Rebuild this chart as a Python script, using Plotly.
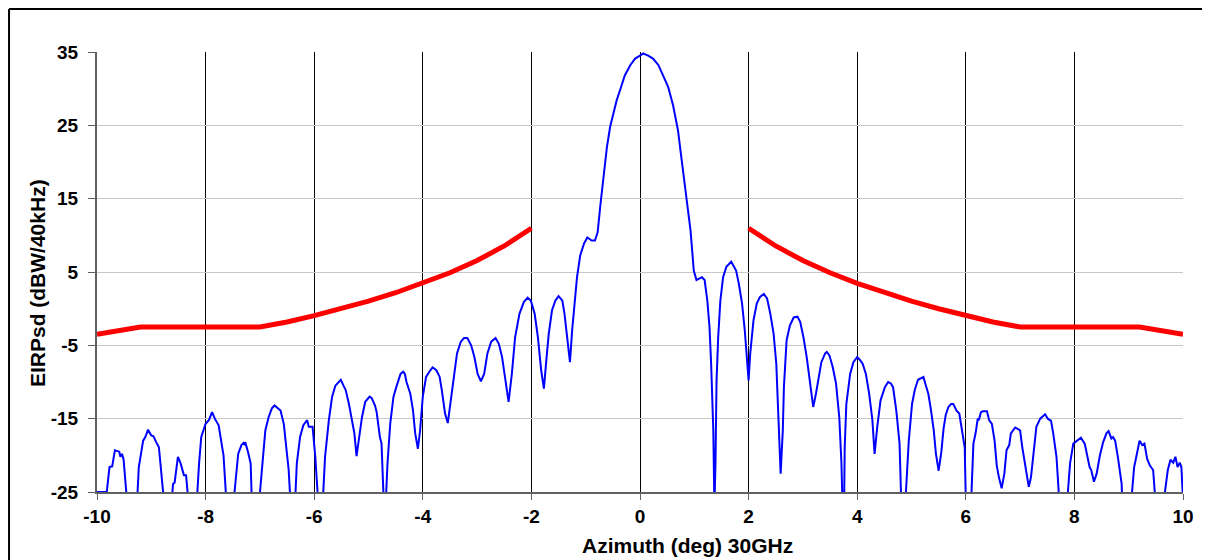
import plotly.graph_objects as go

# ---- Data ----
pattern_az = [
    -10.00, -9.82, -9.77, -9.72, -9.67, -9.63, -9.59, -9.57, -9.54, -9.51, -9.45, -9.35, -9.26,
    -9.23, -9.15, -9.11, -9.06, -9.00, -8.96, -8.91, -8.86, -8.77, -8.69, -8.61,
    -8.60, -8.57, -8.51, -8.46, -8.40, -8.36, -8.32, -8.24, -8.16,
    -8.12, -8.08, -8.00, -7.94, -7.88, -7.83, -7.76, -7.71, -7.67, -7.62, -7.55, -7.48,
    -7.40, -7.34, -7.30, -7.28, -7.27, -7.22, -7.17, -7.15, -7.08, -7.01,
    -6.95, -6.90, -6.84, -6.78, -6.73, -6.67, -6.62, -6.56, -6.52, -6.47, -6.44, -6.40, -6.35,
    -6.32, -6.26, -6.20, -6.13, -6.10, -6.03, -5.98, -5.93, -5.88, -5.84,
    -5.80, -5.73, -5.67, -5.61, -5.55, -5.51, -5.46, -5.42, -5.36, -5.31, -5.26, -5.22,
    -5.18, -5.12, -5.06, -4.98, -4.94, -4.88, -4.85, -4.79, -4.76, -4.73, -4.70, -4.68,
    -4.65, -4.60, -4.54, -4.48, -4.41, -4.36, -4.33, -4.30, -4.23, -4.18, -4.14, -4.09,
    -4.05, -4.00, -3.94, -3.88, -3.82, -3.75, -3.69, -3.65, -3.59, -3.54,
    -3.50, -3.43, -3.37, -3.30, -3.24, -3.18, -3.11, -3.05, -2.99, -2.93,
    -2.87, -2.81, -2.74, -2.66, -2.60, -2.54, -2.48, -2.42,
    -2.36, -2.30, -2.22, -2.14, -2.07, -2.01, -1.94, -1.88, -1.82, -1.77,
    -1.72, -1.68, -1.62, -1.56, -1.50, -1.43, -1.39, -1.34, -1.29,
    -1.25, -1.21, -1.16, -1.10, -1.03, -0.97, -0.89, -0.83, -0.78, -0.73, -0.67, -0.61,
    -0.55, -0.49, -0.43, -0.35, -0.28, -0.18, -0.09, 0.00, 0.06, 0.15, 0.24, 0.34, 0.43,
    0.52, 0.61, 0.70, 0.76, 0.83, 0.89, 0.93, 0.96, 0.99, 1.04, 1.08, 1.14, 1.19, 1.24,
    1.28, 1.31, 1.35, 1.37, 1.39, 1.41, 1.44, 1.48, 1.53, 1.59, 1.68, 1.72, 1.77, 1.82,
    1.88, 1.93, 1.97, 2.00, 2.03, 2.09, 2.15, 2.21, 2.28, 2.34, 2.40, 2.46, 2.51, 2.55,
    2.59, 2.63, 2.65, 2.70, 2.76, 2.83, 2.90, 2.95, 3.01, 3.07, 3.13, 3.19, 3.24, 3.28,
    3.34, 3.41, 3.44, 3.49, 3.55, 3.61, 3.67, 3.71, 3.72, 3.74, 3.76, 3.77, 3.80, 3.87,
    3.93, 4.00, 4.05, 4.10, 4.16, 4.22, 4.28, 4.32, 4.37, 4.43, 4.51, 4.57, 4.62, 4.66,
    4.72, 4.78, 4.81, 4.85, 4.89, 4.95, 5.01, 5.06, 5.12, 5.16, 5.22, 5.27, 5.31, 5.36,
    5.41, 5.45, 5.50, 5.55, 5.59, 5.63, 5.68, 5.73, 5.77, 5.83, 5.88, 5.93, 5.98, 6.00,
    6.05, 6.10, 6.14, 6.18, 6.22, 6.24, 6.28, 6.32, 6.39, 6.43, 6.48, 6.53, 6.57, 6.61,
    6.66, 6.71, 6.75, 6.80, 6.83, 6.91, 7.00, 7.04, 7.08, 7.12, 7.16, 7.20, 7.24, 7.30,
    7.37, 7.46, 7.51, 7.57, 7.61, 7.67, 7.72, 7.80, 7.87, 7.92, 7.98, 8.04, 8.12, 8.19,
    8.24, 8.28, 8.31, 8.36, 8.41, 8.47, 8.53, 8.59, 8.63, 8.68, 8.71, 8.75, 8.80, 8.87,
    8.88, 8.96, 9.05, 9.10, 9.14, 9.20, 9.25, 9.29, 9.34, 9.39, 9.45, 9.49, 9.58, 9.66,
    9.68, 9.72, 9.77, 9.82, 9.86, 9.90, 9.94, 9.97, 10.00,
]
pattern_eirp = [
    -25.0, -25.0, -21.6, -21.5, -19.3, -19.4, -19.5, -20.2, -19.8, -20.6, -26.0, -30.0, -26.0,
    -21.6, -18.0, -17.5, -16.5, -17.3, -17.4, -18.2, -18.9, -26.0, -30.0, -25.0,
    -23.9, -23.7, -20.2, -21.1, -22.7, -22.7, -26.0, -30.0, -26.0,
    -21.1, -17.5, -15.7, -15.2, -14.1, -15.0, -15.9, -18.0, -20.0, -26.0, -30.0, -26.0,
    -19.8, -18.6, -18.3, -18.6, -18.2, -19.5, -21.1, -26.0, -30.0, -26.0,
    -20.2, -16.6, -14.8, -13.6, -13.2, -13.6, -13.9, -15.7, -18.4, -22.0, -26.0, -30.0, -26.0,
    -21.1, -17.5, -15.9, -15.2, -16.1, -16.1, -20.2, -26.0, -30.0, -26.0,
    -20.2, -15.2, -12.0, -10.5, -10.0, -9.7, -10.5, -11.1, -13.0, -14.8, -17.0, -20.1,
    -18.0, -14.8, -12.7, -12.0, -12.2, -13.2, -14.1, -17.5, -18.4, -26.0, -30.0, -26.0,
    -21.1, -15.7, -12.0, -10.5, -8.9, -8.6, -8.9, -10.0, -11.6, -13.9, -17.0, -19.1,
    -16.6, -12.0, -9.3, -8.6, -8.0, -8.4, -9.3, -11.1, -14.3, -15.6,
    -13.4, -9.3, -6.1, -4.5, -4.0, -4.0, -5.0, -6.6, -8.9, -9.9,
    -8.9, -6.1, -4.5, -4.0, -4.8, -6.6, -9.8, -12.7,
    -8.9, -3.9, -0.7, 0.9, 1.5, 1.1, -0.7, -3.9, -8.4, -10.9,
    -6.6, -3.4, -0.2, 1.1, 1.7, 1.1, -0.7, -4.3, -7.3,
    -3.0, 0.5, 4.3, 7.3, 8.9, 9.7, 9.3, 9.3, 10.4, 14.1, 18.4, 22.0,
    24.8, 26.6, 28.4, 30.2, 31.8, 33.2, 34.1, 34.5, 34.8, 34.5, 34.1, 33.2, 31.8,
    30.2, 27.7, 24.3, 20.7, 16.6, 12.5, 10.7, 8.0, 5.2, 3.9, 4.1, 4.3, 3.9, 1.1,
    -2.5, -7.5, -16.6, -27.0, -21.1, -9.8, -3.9, 1.1, 4.3, 5.7, 6.4, 5.9, 5.2, 3.4,
    0.7, -3.0, -6.6, -9.8, -6.1, -1.6, 0.7, 1.6, 2.0, 1.4, -0.7, -3.4, -7.5, -14.3,
    -22.5, -16.6, -10.7, -4.3, -2.3, -1.2, -1.1, -1.8, -3.9, -6.6, -10.2, -13.4, -11.6, -9.8,
    -7.3, -6.1, -5.9, -6.4, -8.0, -10.2, -14.8, -21.1, -26.0, -30.0, -26.0, -18.9, -13.0, -8.9,
    -7.3, -6.6, -7.0, -7.5, -8.9, -11.6, -15.2, -19.8, -16.1, -12.5, -10.7, -10.0, -10.2, -10.7,
    -13.9, -18.4, -26.0, -30.0, -26.0, -18.0, -13.0, -11.1, -9.7, -9.5, -9.3, -10.6, -11.6, -13.9,
    -16.6, -19.8, -22.1, -19.5, -16.4, -14.5, -13.4, -13.0, -13.0, -13.9, -14.3, -16.6, -18.9, -26.0,
    -30.0, -26.0, -18.4, -17.0, -15.0, -15.2, -14.1, -14.0, -14.0, -15.2, -15.7, -18.0, -21.4, -23.0,
    -24.5, -22.5, -19.3, -18.6, -17.0, -16.2, -16.6, -18.9, -20.7, -23.0, -24.3, -23.0, -19.8, -16.1,
    -15.0, -14.4, -15.0, -15.3, -17.0, -20.2, -26.0, -30.0, -26.0, -21.1, -18.4, -18.0, -17.6, -18.4,
    -20.0, -21.6, -22.0, -23.6, -22.5, -20.0, -18.2, -17.0, -16.7, -17.7, -17.5, -18.0, -20.2, -23.9,
    -26.0, -30.0, -26.0, -21.6, -20.2, -18.0, -18.6, -18.4, -20.5, -21.4, -22.0, -26.0, -30.0, -25.0,
    -24.5, -22.0, -20.6, -21.0, -20.2, -21.6, -21.0, -21.6, -26.0,
]

mask_left_az = [-10.0, -9.2, -7.0, -6.5, -6.0, -5.5, -5.0, -4.5, -4.0, -3.5, -3.0, -2.5, -2.0]
mask_left_eirp = [-3.5, -2.5, -2.5, -1.82, -0.95, -0.01, 1.03, 2.17, 3.45, 4.90, 6.57, 8.55, 10.97]
mask_right_az = [2.0, 2.5, 3.0, 3.5, 4.0, 4.5, 5.0, 5.5, 6.0, 6.5, 7.0, 9.2, 10.0]
mask_right_eirp = [10.97, 8.55, 6.57, 4.90, 3.45, 2.17, 1.03, -0.01, -0.95, -1.82, -2.5, -2.5, -3.5]

x_ticks = [-10, -8, -6, -4, -2, 0, 2, 4, 6, 8, 10]
y_ticks = [-25, -15, -5, 5, 15, 25, 35]

x_title = "Azimuth (deg) 30GHz"
y_title = "EIRPsd (dBW/40kHz)"

FONT = "Liberation Sans, Arial, sans-serif"
TICKFONT = dict(family=FONT, size=19, color="black", weight="bold")
TITLEFONT = dict(family=FONT, size=21, color="black", weight="bold")

fig = go.Figure()
fig.add_trace(go.Scatter(x=pattern_az, y=pattern_eirp, mode="lines",
                         line=dict(color="#0000FF", width=2), showlegend=False))
fig.add_trace(go.Scatter(x=mask_left_az, y=mask_left_eirp, mode="lines",
                         line=dict(color="#FF0000", width=5), showlegend=False))
fig.add_trace(go.Scatter(x=mask_right_az, y=mask_right_eirp, mode="lines",
                         line=dict(color="#FF0000", width=5), showlegend=False))

# page has an 8px body margin: figure spans page px 8..1210, 8..560
fig.update_layout(
    width=1202, height=552,
    margin=dict(l=89, r=27, t=44, b=68),
    paper_bgcolor="white", plot_bgcolor="white",
    font=dict(family=FONT, color="black"),
    xaxis=dict(
        range=[-10, 10], tickvals=x_ticks, ticktext=[str(v) for v in x_ticks],
        showgrid=True, gridcolor="black", gridwidth=1,
        showline=True, linecolor="#606060", linewidth=2,
        ticks="outside", ticklen=6, tickcolor="#606060", tickwidth=1,
        tickfont=TICKFONT, zeroline=False,
    ),
    yaxis=dict(
        range=[-25, 35], tickvals=y_ticks, ticktext=[str(v) for v in y_ticks],
        showgrid=True, gridcolor="#C8C8C8", gridwidth=1,
        showline=True, linecolor="#606060", linewidth=2,
        ticks="outside", ticklen=7, tickcolor="#606060", tickwidth=1,
        tickfont=TICKFONT, zeroline=False, ticklabelstandoff=6,
    ),
    annotations=[
        dict(text=x_title, xref="paper", yref="paper", x=0.544, y=-0.122,
             xanchor="center", yanchor="middle", showarrow=False, font=TITLEFONT),
        dict(text=y_title, xref="paper", yref="paper", x=-0.0552, y=0.475,
             xanchor="center", yanchor="middle", showarrow=False, textangle=-90,
             font=TITLEFONT),
    ],
    shapes=[
        dict(type="line", xref="paper", yref="paper", x0=-0.081, x1=-0.081,
             y0=-0.2, y1=1.0977, line=dict(color="black", width=2), layer="below"),
        dict(type="line", xref="paper", yref="paper", x0=-0.081, x1=1.0203,
             y0=1.0977, y1=1.0977, line=dict(color="black", width=2), layer="below"),
        dict(type="line", xref="paper", yref="paper", x0=1.0203, x1=1.0203,
             y0=-0.2, y1=1.0977, line=dict(color="#C8C8C8", width=1), layer="below"),
    ],
)

fig.write_html("out.html")
